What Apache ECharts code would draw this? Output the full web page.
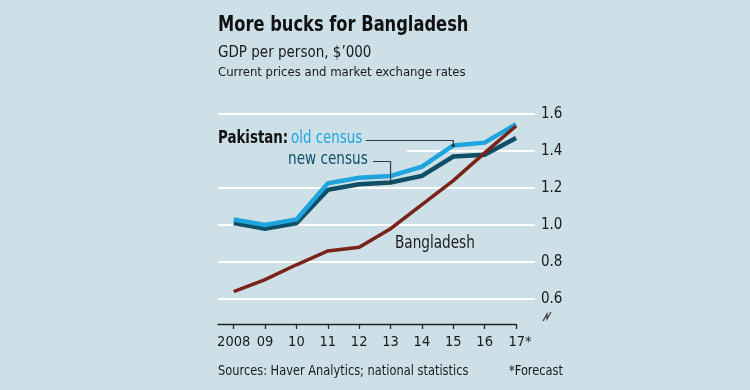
<!DOCTYPE html>
<html>
<head>
<meta charset="utf-8">
<script src="https://cdn.jsdelivr.net/npm/echarts@6/dist/echarts.min.js"></script>
<style>html,body{margin:0;padding:0;background:#cde0e8;}#main{width:750px;height:390px;}</style>
</head>
<body>
<div id="main"></div>
<script>
const years = [2008, 2009, 2010, 2011, 2012, 2013, 2014, 2015, 2016, 2017];
const yearLabels = ['2008', '09', '10', '11', '12', '13', '14', '15', '16', '17*'];
const oldCensus = [1.03, 1.00, 1.03, 1.225, 1.255, 1.265, 1.315, 1.43, 1.445, 1.545];
const newCensus = [1.01, 0.98, 1.01, 1.19, 1.22, 1.23, 1.265, 1.37, 1.38, 1.47];
const bangladesh = [0.64, 0.705, 0.785, 0.86, 0.88, 0.98, 1.11, 1.24, 1.39, 1.535];
const yTickValues = [0.6, 0.8, 1.0, 1.2, 1.4, 1.6];

const FONT = "'Liberation Sans Narrow','DejaVu Sans Condensed',Roboto,sans-serif";
const BG = '#cde0e8';
const C_OLD = '#1fa5de';
const C_NEW = '#0f4f68';
const C_BAN = '#7a2318';

const pairs = arr => years.map((y, i) => [y, arr[i]]);

const chart = echarts.init(document.getElementById('main'));
const option = {
  backgroundColor: BG,
  animation: false,
  grid: [
    { left: 218, right: 215, top: 114, bottom: 91 },
    { left: 218, right: 234, top: 323, height: 1 }
  ],
  xAxis: [
    { type: 'value', gridIndex: 0, min: 2007.5, max: 2017.605, show: false },
    {
      type: 'value', gridIndex: 1, min: 2007.5, max: 2017,
      axisLine: { show: true, lineStyle: { color: '#222', width: 1.3 } },
      axisTick: { show: true, customValues: years, length: 5, lineStyle: { color: '#222', width: 1.3 } },
      axisLabel: {
        customValues: years,
        formatter: v => {
          const i = years.indexOf(Math.round(v));
          if (i < 0) return '';
          return i === years.length - 1 ? '{p|\u00a0}' + yearLabels[i] : yearLabels[i];
        },
        rich: { p: { width: 8 } },
        fontSize: 14.5, color: '#1a1a1a', margin: 11, fontFamily: FONT
      },
      splitLine: { show: false }
    }
  ],
  yAxis: [
    {
      type: 'value', gridIndex: 0, min: yTickValues[0], max: yTickValues[yTickValues.length - 1], interval: 0.2,
      position: 'right',
      axisLine: { show: false }, axisTick: { show: false },
      axisLabel: { formatter: v => v.toFixed(1), fontSize: 15, color: '#1a1a1a', margin: 6, fontFamily: FONT },
      splitLine: { lineStyle: { color: '#ffffff', width: 2 } }
    },
    { type: 'value', gridIndex: 1, show: false, min: 0, max: 1 }
  ],
  series: [
    { name: 'new census', type: 'line', data: pairs(newCensus), symbol: 'none', z: 3,
      lineStyle: { color: C_NEW, width: 4.5, join: 'miter' } },
    { name: 'old census', type: 'line', data: pairs(oldCensus), symbol: 'none', z: 4,
      lineStyle: { color: C_OLD, width: 4.5, join: 'miter' } },
    { name: 'Bangladesh', type: 'line', data: pairs(bangladesh), symbol: 'none', z: 5,
      lineStyle: { color: C_BAN, width: 3.5, join: 'miter' } }
  ]
};
chart.setOption(option);

// connectors attached to data points
const pOld = chart.convertToPixel({ xAxisIndex: 0, yAxisIndex: 0 }, [years[7], oldCensus[7]]);
const pNew = chart.convertToPixel({ xAxisIndex: 0, yAxisIndex: 0 }, [years[5], newCensus[5]]);

chart.setOption({
  graphic: [
    // gap in the 1.4 gridline behind the labels
    { type: 'rect', z: 1, shape: { x: 214, y: 148.5, width: 193, height: 5 }, style: { fill: BG } },
    { type: 'text', x: 218, y: 26, scaleX: 0.862, style: { text: 'More bucks for Bangladesh', font: "bold 21px " + FONT, fill: '#111', textVerticalAlign: 'middle' } },
    { type: 'text', x: 218, y: 53, style: { text: 'GDP per person, $\u2019000', font: "15px " + FONT, fill: '#1a1a1a', textVerticalAlign: 'middle' } },
    { type: 'text', x: 218, y: 73, style: { text: 'Current prices and market exchange rates', font: "13px " + FONT, fill: '#1a1a1a', textVerticalAlign: 'middle' } },
    { type: 'text', x: 218, y: 371, scaleX: 0.94, style: { text: 'Sources: Haver Analytics; national statistics', font: "13.5px " + FONT, fill: '#1a1a1a', textVerticalAlign: 'middle' } },
    { type: 'text', x: 563, y: 371, scaleX: 0.94, style: { text: '*Forecast', font: "13.5px " + FONT, fill: '#1a1a1a', textAlign: 'right', textVerticalAlign: 'middle' } },
    { type: 'text', x: 218, y: 139, z: 10, scaleX: 0.875, style: {
        text: '{a|Pakistan:} {b|old census}', textVerticalAlign: 'middle',
        rich: { a: { font: "bold 17px " + FONT, fill: '#111' }, b: { font: "17px " + FONT, fill: C_OLD } } } },
    { type: 'text', x: 288, y: 160, z: 10, scaleX: 0.89, style: { text: 'new census', font: "17px " + FONT, fill: C_NEW, textVerticalAlign: 'middle' } },
    { type: 'text', x: 395, y: 244, z: 10, scaleX: 0.89, style: { text: 'Bangladesh', font: "17px " + FONT, fill: '#1a1a1a', textVerticalAlign: 'middle' } },
    { type: 'polyline', z: 10, shape: { points: [[366, 140.5], [pOld[0], 140.5], [pOld[0], pOld[1]]] }, style: { stroke: '#2a3a44', lineWidth: 1.2, fill: null } },
    { type: 'circle', z: 11, shape: { cx: pOld[0], cy: pOld[1], r: 1.8 }, style: { fill: '#2a3a44' } },
    { type: 'polyline', z: 10, shape: { points: [[373, 161.5], [pNew[0], 161.5], [pNew[0], pNew[1]]] }, style: { stroke: '#2a3a44', lineWidth: 1.2, fill: null } },
    { type: 'circle', z: 11, shape: { cx: pNew[0], cy: pNew[1], r: 1.8 }, style: { fill: '#2a3a44' } },
    // axis break mark
    { type: 'polyline', z: 10, shape: { points: [[543, 321], [547, 314], [547, 319], [551, 312]] }, style: { stroke: '#333', lineWidth: 1.2, fill: null } }
  ]
});
</script>
</body>
</html>
